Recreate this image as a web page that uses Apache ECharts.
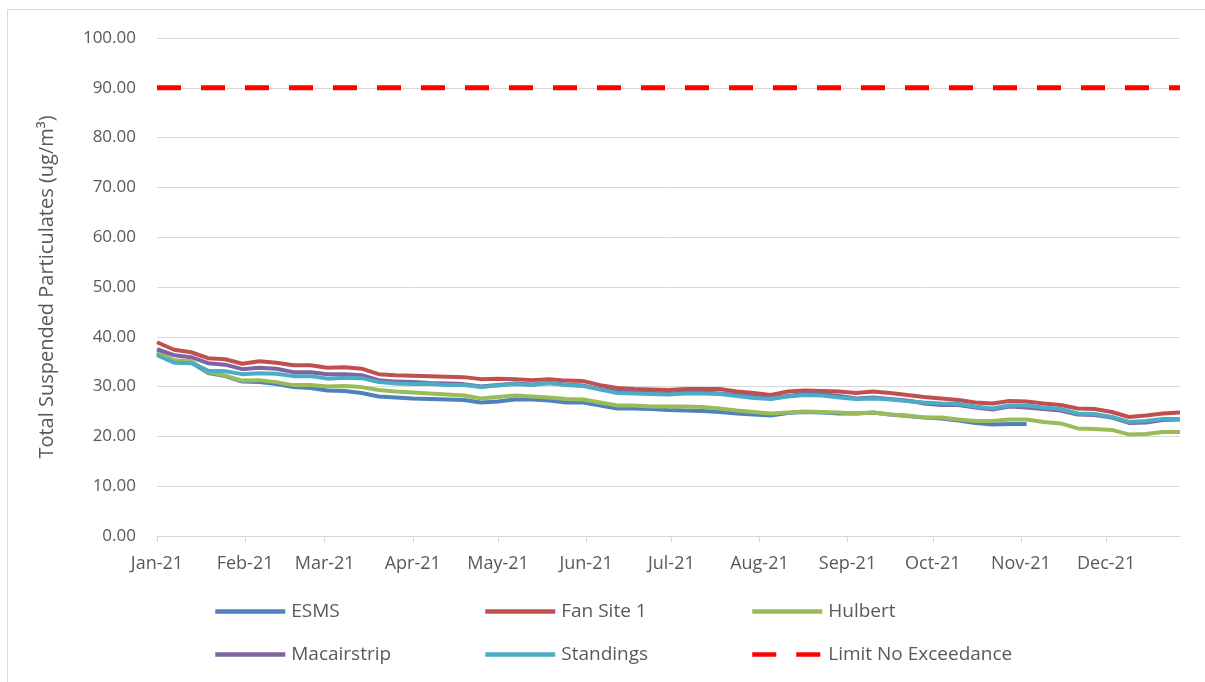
<!DOCTYPE html>
<html>
<head>
<meta charset="utf-8">
<script src="https://cdn.jsdelivr.net/npm/echarts@6/dist/echarts.min.js"></script>
<style>
html,body{margin:0;padding:0;background:#fff;}
#chart{width:1205px;height:682px;}
</style>
</head>
<body>
<div id="chart"></div>
<script>
// ---- Data (sampled every 6 days) ----
const sampleDates = [
  '2021-01-01','2021-01-07','2021-01-13','2021-01-19','2021-01-25','2021-01-31',
  '2021-02-06','2021-02-12','2021-02-18','2021-02-24',
  '2021-03-02','2021-03-08','2021-03-14','2021-03-20','2021-03-26',
  '2021-04-01','2021-04-07','2021-04-13','2021-04-19','2021-04-25',
  '2021-05-01','2021-05-07','2021-05-13','2021-05-19','2021-05-25','2021-05-31',
  '2021-06-06','2021-06-12','2021-06-18','2021-06-24','2021-06-30',
  '2021-07-06','2021-07-12','2021-07-18','2021-07-24','2021-07-30',
  '2021-08-05','2021-08-11','2021-08-17','2021-08-23','2021-08-29',
  '2021-09-04','2021-09-10','2021-09-16','2021-09-22','2021-09-28',
  '2021-10-04','2021-10-10','2021-10-16','2021-10-22','2021-10-28',
  '2021-11-03','2021-11-09','2021-11-15','2021-11-21','2021-11-27',
  '2021-12-03','2021-12-09','2021-12-15','2021-12-21','2021-12-27'
];

const esms = [
  36.7,35.2,34.9,32.7,32.1,31.0,30.9,30.5,29.9,29.7,
  29.2,29.1,28.7,28.0,27.8,27.6,27.5,27.4,27.3,26.8,
  27.0,27.4,27.4,27.2,26.8,26.8,26.2,25.6,25.6,25.5,
  25.3,25.2,25.1,24.9,24.6,24.4,24.2,24.7,24.9,24.8,
  24.6,24.6,24.8,24.4,24.1,23.8,23.6,23.2,22.7,22.4,
  22.5,22.5,null,null,null,null,null,null,null,null,null
];

const fanSite1 = [
  38.9,37.4,36.9,35.7,35.5,34.6,35.1,34.8,34.3,34.3,
  33.8,33.9,33.6,32.5,32.3,32.2,32.1,32.0,31.9,31.5,
  31.6,31.5,31.3,31.5,31.2,31.1,30.3,29.7,29.5,29.4,
  29.3,29.5,29.5,29.5,29.0,28.7,28.3,29.0,29.2,29.1,
  29.0,28.7,29.0,28.7,28.3,27.9,27.6,27.3,26.8,26.6,
  27.1,27.0,26.6,26.3,25.6,25.5,24.9,23.9,24.2,24.6,24.8
];

const hulbert = [
  36.9,35.3,35.1,32.9,32.2,31.2,31.3,30.9,30.3,30.3,
  30.0,30.1,29.9,29.3,29.0,28.8,28.6,28.4,28.2,27.6,
  27.9,28.2,28.0,27.8,27.5,27.4,26.8,26.2,26.2,26.0,
  26.0,26.0,25.9,25.6,25.2,24.9,24.6,24.8,25.0,24.9,
  24.8,24.6,24.8,24.4,24.2,23.8,23.8,23.4,23.1,23.1,
  23.4,23.4,22.9,22.6,21.6,21.5,21.3,20.4,20.5,20.9,20.9
];

const macairstrip = [
  37.5,36.3,35.9,34.7,34.4,33.5,33.8,33.6,32.9,32.9,
  32.5,32.5,32.3,31.3,31.0,30.9,30.7,30.6,30.5,30.0,
  30.3,30.6,30.4,30.7,30.4,30.2,29.5,29.0,28.8,28.7,
  28.6,28.8,28.8,28.6,28.3,28.0,27.6,28.1,28.5,28.5,
  28.1,27.6,27.8,27.5,27.2,26.6,26.3,26.3,25.8,25.4,
  26.0,25.8,25.5,25.2,24.4,24.3,23.8,22.7,22.8,23.3,23.4
];

const standings = [
  36.3,34.8,34.7,33.2,33.1,32.5,32.7,32.6,32.1,32.1,
  31.6,31.8,31.7,30.9,30.6,30.5,30.5,30.3,30.3,29.9,
  30.2,30.5,30.3,30.7,30.3,30.1,29.4,28.7,28.6,28.5,
  28.4,28.6,28.6,28.5,28.1,27.7,27.5,28.0,28.3,28.2,
  27.8,27.5,27.6,27.4,27.1,26.8,26.6,26.5,26.0,25.6,
  26.2,26.2,25.8,25.5,24.6,24.5,23.9,22.9,23.1,23.5,23.5
];

const limitValue = 90;

const seriesNames = ['ESMS','Fan Site 1','Hulbert','Macairstrip','Standings','Limit No Exceedance'];
const monthNames = ['Jan','Feb','Mar','Apr','May','Jun','Jul','Aug','Sep','Oct','Nov','Dec'];
const yMin = 0, yMax = 100, yInterval = 10;
const yAxisTitle = 'Total Suspended Particulates (ug/m³)';

// ---- Daily category axis spanning the sample period ----
const dayCategories = [];
(function(){
  const first = Date.parse(sampleDates[0] + 'T00:00:00Z');
  const last = Date.parse(sampleDates[sampleDates.length - 1] + 'T00:00:00Z');
  for (let t = first; t <= last; t += 86400000) {
    dayCategories.push(new Date(t).toISOString().slice(0, 10));
  }
})();

function pairs(values) {
  const out = [];
  values.forEach((v, i) => { if (v !== null) out.push([sampleDates[i], v]); });
  return out;
}
function isMonthStart(index, value) { return value.slice(8, 10) === '01'; }

const TEXT = '#595959';
const GRID = '#D9D9D9';
const FONT = '"Open Sans", sans-serif';

const colors = ['#4F81BD','#C0504D','#9BBB59','#8064A2','#4BACC6','#FF0000'];
const valueSets = [esms, fanSite1, hulbert, macairstrip, standings];

const series = valueSets.map((vals, k) => ({
  name: seriesNames[k],
  type: 'line',
  data: pairs(vals),
  symbol: 'none',
  smooth: false,
  lineStyle: { color: colors[k], width: 4 },
  itemStyle: { color: colors[k] },
  z: 2 + k
}));
series.push({
  name: seriesNames[5],
  type: 'line',
  data: sampleDates.map(d => [d, limitValue]),
  symbol: 'none',
  lineStyle: { color: colors[5], width: 5, type: [24, 20], cap: 'butt' },
  itemStyle: { color: colors[5] },
  z: 8
});

const legendPos = [
  { left: 213, top: 602 }, { left: 483, top: 602 }, { left: 750, top: 602 },
  { left: 213, top: 645 }, { left: 483, top: 645 }, { left: 750, top: 645 }
];
const legends = seriesNames.map((n, k) => ({
  data: [n],
  left: legendPos[k].left,
  top: legendPos[k].top,
  padding: 0,
  itemWidth: 70,
  itemHeight: 20,
  itemGap: 0,
  selectedMode: false,
  itemStyle: { opacity: 0 },
  lineStyle: { width: 4.5 },
  textStyle: { color: TEXT, fontSize: 19, fontFamily: FONT, padding: [0, 0, 0, 1] }
}));

const chart = echarts.init(document.getElementById('chart'), null, { renderer: 'canvas' });
chart.setOption({
  animation: false,
  backgroundColor: '#fff',
  color: colors,
  graphic: [{
    type: 'rect',
    shape: { x: 7.5, y: 9.5, width: 1220, height: 700 },
    style: { fill: 'none', stroke: GRID, lineWidth: 1 },
    silent: true
  }],
  grid: { left: 157, right: 25, top: 38, bottom: 146, containLabel: false },
  legend: legends,
  xAxis: {
    type: 'category',
    data: dayCategories,
    boundaryGap: false,
    axisLine: { show: true, lineStyle: { color: GRID, width: 1 } },
    axisTick: { show: true, interval: isMonthStart, length: 6, lineStyle: { color: GRID } },
    axisLabel: {
      interval: isMonthStart,
      margin: 19,
      color: TEXT,
      fontSize: 18,
      fontFamily: FONT,
      formatter: v => monthNames[parseInt(v.slice(5, 7), 10) - 1] + '-' + v.slice(2, 4)
    },
    splitLine: { show: false }
  },
  yAxis: {
    type: 'value',
    min: yMin, max: yMax, interval: yInterval,
    name: yAxisTitle,
    nameLocation: 'middle',
    nameGap: 100,
    nameTextStyle: { color: TEXT, fontSize: 20, fontFamily: FONT },
    axisLine: { show: false },
    axisTick: { show: false },
    axisLabel: { color: TEXT, fontSize: 17, fontFamily: FONT, margin: 21, formatter: v => v.toFixed(2) },
    splitLine: { lineStyle: { color: GRID, width: 1 } }
  },
  series: series
});
</script>
</body>
</html>
